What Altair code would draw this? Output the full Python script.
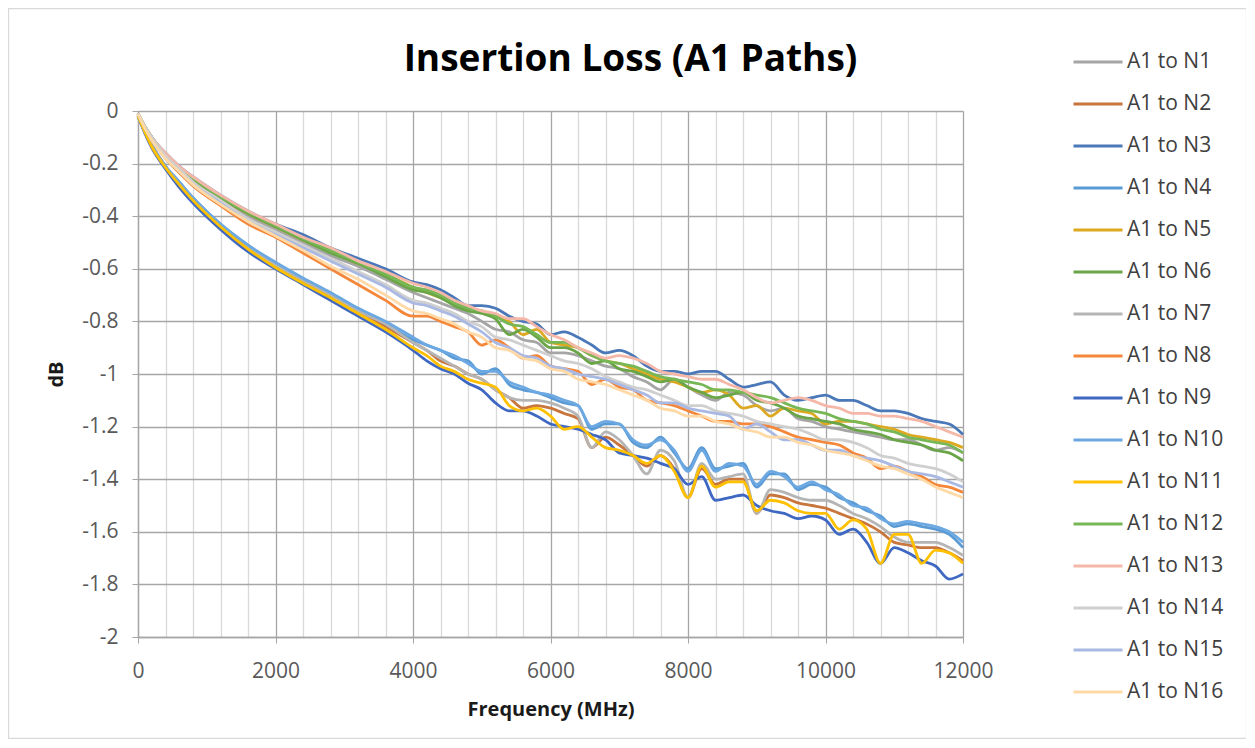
import altair as alt
import pandas as pd

FREQ = [0, 100, 200, 400, 600, 800, 1200, 1600, 2000, 2400, 2800, 3200, 3600,
        4000, 4200, 4400, 4600, 4800, 5000, 5200, 5400, 5600, 5800,
        6000, 6200, 6400, 6600, 6800, 7000, 7200, 7400, 7600, 7800,
        8000, 8200, 8400, 8600, 8800, 9000, 9200, 9400, 9600, 9800,
        10000, 10200, 10400, 10600, 10800, 11000, 11200, 11400, 11600, 11800,
        12000]

SERIES = ["A1 to N%d" % i for i in range(1, 17)]

COLORS = ["#A5A5A5", "#C8753E", "#4A78B8", "#5B9BD5", "#DDA920", "#6AA548",
          "#B5B5B5", "#F4873A", "#3F68C2", "#6CA8E2", "#FFC000", "#77B755",
          "#F5B8A8", "#CFCFCF", "#A9B9E3", "#FFD9A6"]

N1 = [-0.01, -0.06, -0.10, -0.17, -0.22, -0.265, -0.335, -0.40, -0.45, -0.50, -0.55, -0.59, -0.64,
      -0.69, -0.71, -0.73, -0.75, -0.77, -0.80, -0.83, -0.84, -0.87, -0.88,
      -0.92, -0.92, -0.93, -0.95, -0.97, -0.98, -1.01, -1.03, -1.06, -1.02,
      -1.05, -1.08, -1.10, -1.07, -1.08, -1.12, -1.14, -1.13, -1.17, -1.18,
      -1.20, -1.21, -1.22, -1.23, -1.24, -1.25, -1.25, -1.27, -1.29, -1.28,
      -1.30]
N2 = [-0.02, -0.08, -0.13, -0.21, -0.28, -0.34, -0.44, -0.52, -0.59, -0.65, -0.71, -0.76, -0.82,
      -0.88, -0.91, -0.95, -0.97, -1.00, -1.02, -1.06, -1.09, -1.13, -1.12,
      -1.13, -1.15, -1.17, -1.28, -1.24, -1.27, -1.31, -1.35, -1.31, -1.36,
      -1.47, -1.36, -1.42, -1.40, -1.40, -1.53, -1.46, -1.47, -1.49, -1.50,
      -1.51, -1.53, -1.55, -1.57, -1.60, -1.64, -1.65, -1.66, -1.66, -1.68,
      -1.71]
N3 = [-0.01, -0.06, -0.10, -0.16, -0.21, -0.25, -0.32, -0.38, -0.43, -0.47, -0.52, -0.56, -0.60,
      -0.65, -0.66, -0.68, -0.71, -0.74, -0.74, -0.75, -0.78, -0.80, -0.81,
      -0.85, -0.84, -0.86, -0.89, -0.92, -0.91, -0.93, -0.97, -0.99, -0.99,
      -1.00, -0.99, -0.99, -1.02, -1.05, -1.04, -1.03, -1.08, -1.10, -1.09,
      -1.08, -1.10, -1.10, -1.12, -1.14, -1.14, -1.15, -1.17, -1.18, -1.19,
      -1.23]
N4 = [-0.02, -0.08, -0.13, -0.21, -0.27, -0.33, -0.43, -0.51, -0.58, -0.64, -0.70, -0.75, -0.81,
      -0.87, -0.89, -0.91, -0.94, -0.95, -1.00, -0.98, -1.04, -1.06, -1.07,
      -1.09, -1.11, -1.12, -1.21, -1.19, -1.19, -1.26, -1.28, -1.24, -1.30,
      -1.36, -1.28, -1.36, -1.35, -1.34, -1.43, -1.38, -1.38, -1.44, -1.42,
      -1.43, -1.47, -1.49, -1.52, -1.54, -1.58, -1.57, -1.58, -1.59, -1.61,
      -1.66]
N5 = [-0.01, -0.06, -0.10, -0.165, -0.215, -0.26, -0.33, -0.39, -0.44, -0.49, -0.535, -0.58, -0.62,
      -0.67, -0.69, -0.71, -0.73, -0.75, -0.76, -0.78, -0.80, -0.85, -0.83,
      -0.88, -0.89, -0.90, -0.93, -0.95, -0.96, -0.98, -1.00, -1.02, -1.03,
      -1.05, -1.07, -1.06, -1.08, -1.13, -1.12, -1.16, -1.13, -1.14, -1.15,
      -1.19, -1.18, -1.18, -1.19, -1.20, -1.21, -1.23, -1.24, -1.25, -1.26,
      -1.28]
N6 = [-0.01, -0.06, -0.10, -0.17, -0.22, -0.26, -0.33, -0.39, -0.44, -0.49, -0.54, -0.58, -0.63,
      -0.68, -0.69, -0.71, -0.74, -0.76, -0.77, -0.79, -0.85, -0.83, -0.86,
      -0.90, -0.90, -0.92, -0.96, -0.95, -0.98, -0.99, -1.01, -1.03, -1.02,
      -1.05, -1.07, -1.09, -1.08, -1.07, -1.10, -1.11, -1.13, -1.16, -1.17,
      -1.18, -1.19, -1.21, -1.22, -1.23, -1.25, -1.26, -1.27, -1.29, -1.30,
      -1.33]
N7 = [-0.02, -0.08, -0.13, -0.21, -0.27, -0.335, -0.435, -0.515, -0.585, -0.645, -0.70, -0.76, -0.81,
      -0.88, -0.91, -0.94, -0.97, -1.00, -1.02, -1.06, -1.09, -1.10, -1.10,
      -1.11, -1.13, -1.16, -1.28, -1.22, -1.25, -1.31, -1.38, -1.29, -1.33,
      -1.47, -1.34, -1.40, -1.39, -1.38, -1.53, -1.44, -1.45, -1.47, -1.48,
      -1.48, -1.50, -1.53, -1.55, -1.58, -1.62, -1.64, -1.64, -1.64, -1.66,
      -1.69]
N8 = [-0.01, -0.065, -0.11, -0.18, -0.235, -0.285, -0.36, -0.43, -0.48, -0.54, -0.60, -0.66, -0.72,
      -0.78, -0.78, -0.80, -0.82, -0.84, -0.89, -0.87, -0.90, -0.94, -0.93,
      -0.97, -0.98, -0.99, -1.04, -1.02, -1.05, -1.06, -1.10, -1.11, -1.12,
      -1.14, -1.16, -1.18, -1.18, -1.19, -1.19, -1.20, -1.22, -1.24, -1.25,
      -1.26, -1.27, -1.30, -1.32, -1.36, -1.35, -1.37, -1.39, -1.42, -1.43,
      -1.45]
N9 = [-0.02, -0.085, -0.14, -0.22, -0.29, -0.35, -0.45, -0.535, -0.60, -0.66, -0.72, -0.78, -0.84,
      -0.91, -0.95, -0.98, -1.00, -1.035, -1.06, -1.11, -1.14, -1.14, -1.16,
      -1.19, -1.20, -1.21, -1.23, -1.25, -1.30, -1.31, -1.32, -1.34, -1.36,
      -1.42, -1.39, -1.48, -1.47, -1.46, -1.50, -1.52, -1.53, -1.55, -1.54,
      -1.555, -1.61, -1.59, -1.64, -1.72, -1.66, -1.68, -1.71, -1.73, -1.78,
      -1.76]
N10 = [-0.02, -0.08, -0.13, -0.21, -0.27, -0.33, -0.43, -0.51, -0.575, -0.635, -0.69, -0.75, -0.80,
       -0.86, -0.89, -0.91, -0.93, -0.96, -0.99, -0.99, -1.03, -1.05, -1.07,
       -1.08, -1.10, -1.12, -1.20, -1.18, -1.19, -1.25, -1.27, -1.25, -1.29,
       -1.37, -1.29, -1.37, -1.34, -1.35, -1.42, -1.37, -1.39, -1.43, -1.41,
       -1.44, -1.46, -1.50, -1.51, -1.55, -1.57, -1.56, -1.57, -1.58, -1.60,
       -1.64]
N11 = [-0.02, -0.08, -0.135, -0.215, -0.28, -0.34, -0.44, -0.525, -0.595, -0.655, -0.71, -0.77, -0.83,
       -0.90, -0.93, -0.97, -0.99, -1.02, -1.035, -1.05, -1.12, -1.14, -1.13,
       -1.16, -1.21, -1.20, -1.24, -1.28, -1.29, -1.31, -1.34, -1.31, -1.37,
       -1.47, -1.35, -1.43, -1.41, -1.41, -1.52, -1.48, -1.49, -1.52, -1.53,
       -1.53, -1.59, -1.555, -1.59, -1.72, -1.61, -1.61, -1.72, -1.67, -1.68,
       -1.72]
N12 = [-0.01, -0.06, -0.10, -0.165, -0.215, -0.255, -0.325, -0.385, -0.435, -0.485, -0.53, -0.575, -0.62,
       -0.67, -0.68, -0.70, -0.73, -0.75, -0.76, -0.78, -0.81, -0.82, -0.85,
       -0.88, -0.88, -0.90, -0.93, -0.95, -0.96, -0.97, -0.99, -1.01, -1.02,
       -1.03, -1.04, -1.06, -1.06, -1.07, -1.08, -1.09, -1.11, -1.13, -1.14,
       -1.15, -1.17, -1.18, -1.19, -1.21, -1.22, -1.24, -1.25, -1.26, -1.27,
       -1.30]
N13 = [-0.01, -0.06, -0.10, -0.16, -0.21, -0.25, -0.32, -0.38, -0.43, -0.48, -0.52, -0.57, -0.61,
       -0.655, -0.67, -0.69, -0.72, -0.74, -0.76, -0.77, -0.79, -0.79, -0.82,
       -0.85, -0.87, -0.90, -0.92, -0.94, -0.93, -0.94, -0.96, -0.99, -1.00,
       -1.01, -1.02, -1.02, -1.04, -1.06, -1.09, -1.11, -1.10, -1.09, -1.10,
       -1.12, -1.13, -1.15, -1.15, -1.16, -1.16, -1.17, -1.18, -1.20, -1.22,
       -1.24]
N14 = [-0.01, -0.06, -0.10, -0.17, -0.22, -0.27, -0.34, -0.41, -0.46, -0.51, -0.56, -0.61, -0.66,
       -0.72, -0.73, -0.75, -0.77, -0.80, -0.82, -0.86, -0.87, -0.89, -0.91,
       -0.93, -0.95, -0.96, -0.98, -1.01, -1.03, -1.05, -1.06, -1.08, -1.10,
       -1.12, -1.12, -1.14, -1.15, -1.16, -1.18, -1.19, -1.20, -1.21, -1.23,
       -1.25, -1.25, -1.26, -1.28, -1.31, -1.32, -1.34, -1.35, -1.36, -1.38,
       -1.41]
N15 = [-0.01, -0.065, -0.11, -0.18, -0.23, -0.28, -0.35, -0.42, -0.47, -0.52, -0.57, -0.62, -0.67,
       -0.73, -0.74, -0.76, -0.78, -0.81, -0.84, -0.88, -0.90, -0.93, -0.94,
       -0.97, -0.98, -1.00, -1.01, -1.02, -1.04, -1.06, -1.08, -1.11, -1.11,
       -1.13, -1.14, -1.15, -1.16, -1.21, -1.19, -1.22, -1.25, -1.25, -1.27,
       -1.29, -1.29, -1.31, -1.32, -1.33, -1.35, -1.37, -1.38, -1.39, -1.41,
       -1.43]
N16 = [-0.01, -0.065, -0.11, -0.18, -0.23, -0.28, -0.355, -0.42, -0.475, -0.53, -0.59, -0.64, -0.70,
       -0.76, -0.77, -0.79, -0.81, -0.84, -0.86, -0.90, -0.91, -0.94, -0.95,
       -0.98, -0.99, -1.02, -1.03, -1.04, -1.06, -1.08, -1.10, -1.13, -1.14,
       -1.16, -1.16, -1.18, -1.19, -1.21, -1.22, -1.24, -1.24, -1.26, -1.27,
       -1.29, -1.30, -1.31, -1.33, -1.35, -1.36, -1.38, -1.40, -1.43, -1.45,
       -1.47]

ALL = [N1, N2, N3, N4, N5, N6, N7, N8, N9, N10, N11, N12, N13, N14, N15, N16]

X_TICKS = list(range(0, 12001, 400))
Y_TICKS = [0, -0.2, -0.4, -0.6, -0.8, -1.0, -1.2, -1.4, -1.6, -1.8, -2.0]

rows = []
for name, vals in zip(SERIES, ALL):
    for f, v in zip(FREQ, vals):
        rows.append({"series": name, "freq": f, "db": v})
df = pd.DataFrame(rows)

FONT = "Open Sans"
GRID = "#A6A6A6"
MINOR = "#D9D9D9"

lines = alt.Chart(df).mark_line(strokeWidth=2.8, interpolate="monotone").encode(
    x=alt.X("freq:Q",
            scale=alt.Scale(domain=[0, 12000], nice=False, zero=False),
            axis=alt.Axis(values=X_TICKS, title="Frequency (MHz)",
                          labelExpr="datum.value % 2000 === 0 ? toString(datum.value) : ''",
                          labelOverlap=False, labelFlush=False,
                          gridColor={"condition": {"test": "datum.value % 2000 === 0", "value": GRID}, "value": MINOR},
                          gridWidth=1.3,
                          tickColor=GRID,
                          tickOpacity={"condition": {"test": "datum.value % 2000 === 0", "value": 1}, "value": 0},
                          tickSize=6, domainColor=GRID, domainWidth=1.3,
                          labelFont=FONT, labelFontSize=21, labelColor="#595959", labelPadding=17,
                          titleFont=FONT, titleFontSize=20, titleFontWeight="bold", titleColor="#1a1a1a",
                          titlePadding=18)),
    y=alt.Y("db:Q",
            scale=alt.Scale(domain=[-2, 0], nice=False, zero=False),
            axis=alt.Axis(values=Y_TICKS, title="dB",
                          labelExpr="datum.value == 0 ? '0' : toString(round(datum.value * 10) / 10)",
                          labelOverlap=False,
                          gridColor=GRID, gridWidth=1.3, tickColor=GRID, tickSize=6,
                          domainColor=GRID, domainWidth=1.3,
                          labelFont=FONT, labelFontSize=21, labelColor="#595959", labelPadding=14,
                          titleFont=FONT, titleFontSize=20, titleFontWeight="bold", titleColor="#1a1a1a",
                          titlePadding=15)),
    color=alt.Color("series:N",
                    scale=alt.Scale(domain=SERIES, range=COLORS),
                    legend=alt.Legend(title=None, orient="none", legendX=934, legendY=-75,
                                      symbolType="stroke", symbolSize=2401, symbolStrokeWidth=2.8,
                                      labelFont=FONT, labelFontSize=21, labelColor="#404040",
                                      labelOffset=3, rowPadding=6, padding=0, symbolLimit=0)),
    detail="series:N",
)

frame = alt.Chart(pd.DataFrame({"a": [0]})).mark_rect(
    fillOpacity=0, stroke="#D9D9D9", strokeWidth=1.3
).encode(
    x=alt.value(-129.5), x2=alt.value(1108.5), y=alt.value(-102.5), y2=alt.value(627.5)
)

chart = alt.layer(frame, lines).properties(
    width=825, height=526,
    title=alt.TitleParams("Insertion Loss (A1 Paths)", font=FONT, fontSize=37, fontWeight="bold",
                          color="#000000", anchor="middle", dx=80, dy=97, offset=26),
    padding={"left": 130, "top": 103, "right": 283, "bottom": 102},
    autosize=alt.AutoSizeParams(type="none"),
).configure_view(stroke=None).configure(background="white")

chart.save("out.html", embed_options={"renderer": "svg", "actions": False})
